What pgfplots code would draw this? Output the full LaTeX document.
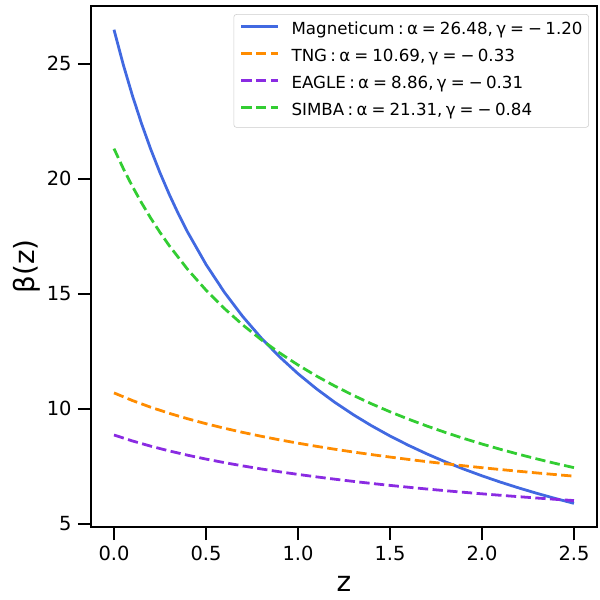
\documentclass[border=0pt]{standalone}
\usepackage{fontspec}
\setmainfont{DejaVu Sans}
\usepackage{pgfplots}
\pgfplotsset{compat=1.18}
\definecolor{cmag}{RGB}{65,105,225}
\definecolor{ctng}{RGB}{255,140,0}
\definecolor{ceag}{RGB}{138,43,226}
\definecolor{csim}{RGB}{50,205,50}
\newcommand\ms{\hspace{0.24em}}
\newcommand\ts{\hspace{0.2em}}
\begin{document}
\begin{tikzpicture}
\path[use as bounding box] (-65.52pt,-52.56pt) rectangle (366.48pt,379.44pt);
\begin{axis}[
  at={(0pt,0pt)}, anchor=south west,
  scale only axis, width=364.3pt, height=375.1pt,
  xmin=-0.125, xmax=2.625, ymin=4.86, ymax=27.51,
  xtick={0,0.5,1,1.5,2,2.5},
  xticklabels={0.0,0.5,1.0,1.5,2.0,2.5},
  ytick={5,10,15,20,25},
  tick pos=left, tick align=outside,
  major tick length=9.5pt,
  every tick/.style={black, line width=1.4pt},
  axis line style={black, line width=0.9pt},
  /pgf/number format/assume math mode=true,
  ticklabel style={font=\fontsize{14}{16}\selectfont},
  xticklabel style={yshift=-1pt},
  yticklabel style={xshift=-1pt},
  xlabel={z}, ylabel={β(z)},
  label style={font=\fontsize{20}{24}\selectfont},
  xlabel style={yshift=-4pt},
  ylabel style={yshift=-2pt},
  legend cell align=left,
  legend style={at={(1,1)}, anchor=north east, xshift=-5.8pt, yshift=-5.8pt,
    draw=black!20, rounded corners=2pt, fill=white, fill opacity=0.8, text opacity=1,
    font=\fontsize{12}{14}\selectfont,
    inner xsep=4.4pt, inner ysep=5.6pt,
    nodes={inner sep=0pt, text height=9pt, text depth=3pt},
    row sep=7.4pt, column sep=8.6pt},
  legend image code/.code={\draw[#1] (0pt,3pt) -- (26.6pt,3pt);},
]
\addplot[cmag, line width=2pt, line join=round] coordinates {
(0.0,26.480) (0.05,24.974) (0.1,23.618) (0.15,22.391) (0.2,21.276) (0.25,20.260)
(0.3,19.328) (0.35,18.472) (0.4,17.683) (0.5,16.278)
(0.6,15.065) (0.7,14.008) (0.8,13.080) (0.9,12.258) (1.0,11.526) (1.1,10.871)
(1.2,10.280) (1.3,9.746) (1.4,9.261) (1.5,8.818) (1.6,8.413) (1.7,8.040)
(1.8,7.697) (1.9,7.380) (2.0,7.086) (2.1,6.812) (2.2,6.558) (2.3,6.320)
(2.4,6.097) (2.5,5.889)};
\addlegendentry{Magneticum\ts:\ts α\ms=\ms26.48,\ts γ\ms=\ms−\ts1.20}
\addplot[ctng, line width=2pt, dash pattern=on 7.4pt off 3.2pt] coordinates {
(0.0,10.690) (0.1,10.359) (0.2,10.066) (0.3,9.803) (0.4,9.567) (0.5,9.351)
(0.6,9.154) (0.7,8.973) (0.8,8.805) (0.9,8.649) (1.0,8.504) (1.1,8.369)
(1.2,8.241) (1.3,8.121) (1.4,8.008) (1.5,7.901) (1.6,7.799) (1.7,7.702)
(1.8,7.611) (1.9,7.523) (2.0,7.439) (2.1,7.359) (2.2,7.283) (2.3,7.209)
(2.4,7.138) (2.5,7.070)};
\addlegendentry{TNG\ts:\ts α\ms=\ms10.69,\ts γ\ms=\ms−\ts0.33}
\addplot[ceag, line width=2pt, dash pattern=on 7.4pt off 3.2pt] coordinates {
(0.0,8.860) (0.1,8.602) (0.2,8.373) (0.3,8.168) (0.4,7.982) (0.5,7.813)
(0.6,7.659) (0.7,7.516) (0.8,7.384) (0.9,7.261) (1.0,7.147) (1.1,7.040)
(1.2,6.939) (1.3,6.844) (1.4,6.754) (1.5,6.669) (1.6,6.589) (1.7,6.512)
(1.8,6.439) (1.9,6.369) (2.0,6.303) (2.1,6.239) (2.2,6.178) (2.3,6.119)
(2.4,6.063) (2.5,6.009)};
\addlegendentry{EAGLE\ts:\ts α\ms=\ms8.86,\ts γ\ms=\ms−\ts0.31}
\addplot[csim, line width=2pt, dash pattern=on 7.4pt off 3.2pt] coordinates {
(0.0,21.310) (0.05,20.454) (0.1,19.670) (0.15,18.950) (0.2,18.284) (0.25,17.668)
(0.3,17.095) (0.4,16.063) (0.5,15.159)
(0.6,14.359) (0.7,13.646) (0.8,13.006) (0.9,12.429) (1.0,11.905) (1.1,11.427)
(1.2,10.989) (1.3,10.586) (1.4,10.214) (1.5,9.870) (1.6,9.550) (1.7,9.252)
(1.8,8.974) (1.9,8.713) (2.0,8.468) (2.1,8.238) (2.2,8.021) (2.3,7.817)
(2.4,7.623) (2.5,7.440)};
\addlegendentry{SIMBA\ts:\ts α\ms=\ms21.31,\ts γ\ms=\ms−\ts0.84}
\end{axis}
\end{tikzpicture}
\end{document}
